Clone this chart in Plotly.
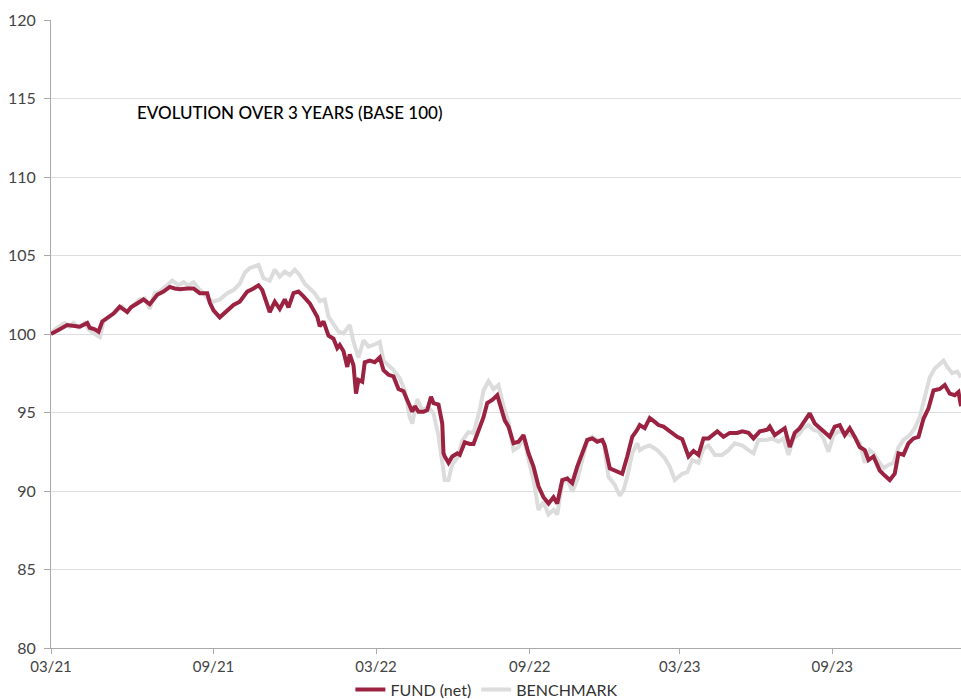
import plotly.graph_objects as go

# x positions are trading-day indices since 03/21
tick_idx = [0, 130, 260, 383, 503, 625]
tick_labels = ["03/21", "09/21", "03/22", "09/22", "03/23", "09/23"]

fund_idx = [0, 3, 7, 13, 18, 23, 29, 31, 35, 38, 41, 45, 50, 55, 61, 64, 69, 74, 79, 85,
            90, 95, 99, 103, 109, 114, 119, 125, 127, 130, 135, 141, 146, 151, 157, 162, 166, 169, 173, 175,
            179, 183, 187, 190, 194, 198, 202, 207, 213, 215, 218, 222, 226, 229, 231, 234, 237, 239, 242, 244,
            246, 249, 251, 255, 259, 263, 266, 270, 274, 278, 282, 286, 289, 291, 294, 298, 301, 304, 306, 310,
            313, 314, 315, 318, 321, 325, 327, 331, 335, 338, 342, 346, 349, 353, 357, 359, 363, 366, 370, 374,
            378, 382, 386, 390, 394, 398, 402, 405, 409, 413, 417, 421, 425, 429, 433, 437, 441, 443, 447, 453,
            457, 461, 465, 469, 471, 475, 479, 483, 486, 490, 495, 501, 505, 510, 514, 518, 522, 526, 533, 538,
            543, 549, 553, 558, 562, 567, 573, 575, 579, 583, 587, 591, 595, 599, 603, 607, 611, 615, 619, 623,
            627, 631, 635, 639, 643, 647, 651, 654, 658, 663, 667, 671, 675, 678, 682, 686, 690, 694, 698, 702,
            706, 711, 715, 719, 723, 726, 728]
fund_vals = [100.0, 100.1, 100.3, 100.57, 100.5, 100.46, 100.7, 100.4, 100.3, 100.15, 100.8, 101.0, 101.3, 101.74, 101.4, 101.7, 101.95, 102.2, 101.9, 102.5,
             102.7, 103.0, 102.9, 102.85, 102.9, 102.9, 102.6, 102.6, 102.0, 101.5, 101.06, 101.5, 101.85, 102.06, 102.7, 102.9, 103.1, 102.8, 101.95, 101.4,
             102.06, 101.6, 102.2, 101.7, 102.6, 102.7, 102.4, 101.95, 101.1, 100.5, 100.8, 99.9, 99.7, 99.1, 99.3, 98.9, 97.9, 98.7, 98.0, 96.2,
             97.07, 96.96, 98.2, 98.3, 98.2, 98.5, 97.7, 97.4, 97.3, 96.5, 96.35, 95.6, 95.05, 95.4, 95.05, 95.05, 95.16, 96.0, 95.6, 95.5,
             94.3, 92.4, 92.2, 91.8, 92.2, 92.4, 92.3, 93.1, 93.0, 93.0, 93.8, 94.7, 95.6, 95.8, 96.1, 95.6, 94.5, 94.1, 93.04, 93.14,
             93.56, 92.4, 91.55, 90.3, 89.6, 89.2, 89.6, 89.2, 90.7, 90.8, 90.5, 91.55, 92.4, 93.25, 93.35, 93.14, 93.25, 92.9, 91.45, 91.2,
             91.1, 92.2, 93.45, 93.9, 94.2, 94.0, 94.65, 94.4, 94.2, 94.1, 93.8, 93.45, 93.3, 92.2, 92.55, 92.3, 93.35, 93.35, 93.8, 93.45,
             93.7, 93.7, 93.8, 93.7, 93.35, 93.8, 93.9, 94.1, 93.56, 93.8, 94.0, 92.8, 93.7, 94.0, 94.5, 94.95, 94.3, 94.0, 93.7, 93.45,
             94.1, 94.2, 93.56, 94.0, 93.45, 92.8, 92.6, 91.97, 92.2, 91.3, 90.98, 90.7, 91.1, 92.4, 92.3, 93.04, 93.35, 93.45, 94.6, 95.27,
             96.4, 96.5, 96.75, 96.2, 96.1, 96.3, 95.4]

bench_idx = [0, 5, 11, 15, 18, 22, 27, 30, 34, 39, 42, 47, 53, 57, 61, 66, 71, 75, 79, 83,
             87, 91, 97, 102, 106, 110, 114, 118, 122, 125, 130, 135, 141, 146, 151, 155, 159, 166, 170, 175,
             179, 183, 187, 191, 195, 199, 203, 207, 211, 215, 219, 222, 226, 230, 234, 239, 242, 246, 250, 254,
             258, 263, 266, 270, 274, 279, 283, 287, 289, 293, 297, 302, 306, 310, 313, 315, 318, 321, 325, 329,
             334, 338, 343, 346, 350, 354, 358, 362, 366, 370, 374, 378, 382, 386, 390, 394, 398, 402, 405, 409,
             413, 417, 421, 425, 429, 433, 437, 442, 446, 451, 455, 458, 461, 465, 469, 471, 475, 479, 485, 491,
             495, 499, 505, 509, 513, 518, 522, 526, 531, 537, 542, 547, 553, 558, 562, 566, 572, 577, 582, 586,
             590, 594, 598, 602, 606, 610, 614, 618, 622, 626, 630, 634, 639, 643, 647, 651, 655, 658, 663, 666,
             670, 674, 678, 682, 687, 691, 695, 699, 703, 707, 710, 714, 717, 721, 725, 728]
bench_vals = [100.06, 100.4, 100.7, 100.46, 100.7, 100.4, 100.7, 100.3, 100.06, 99.8, 100.8, 101.1, 101.5, 101.74, 101.4, 101.85, 102.2, 102.27, 101.6, 102.6,
              102.7, 103.0, 103.4, 103.1, 103.3, 103.1, 103.3, 102.9, 102.6, 102.27, 102.06, 102.2, 102.6, 102.8, 103.2, 103.9, 104.2, 104.4, 103.55, 103.4,
              104.1, 103.65, 103.97, 103.75, 104.1, 103.75, 103.2, 102.9, 102.6, 102.1, 102.2, 101.1, 100.6, 100.15, 100.04, 100.57, 99.5, 98.5, 99.6, 99.2,
              99.3, 99.5, 98.3, 98.0, 97.7, 97.2, 96.4, 94.7, 94.3, 95.85, 95.16, 95.35, 94.95, 93.5, 91.8, 90.7, 90.7, 91.7, 92.1, 93.2,
              93.75, 93.7, 95.16, 96.4, 97.0, 96.5, 96.75, 95.4, 94.4, 92.6, 92.8, 93.45, 92.0, 90.7, 88.8, 89.3, 88.5, 88.8, 88.5, 90.5,
              90.8, 89.96, 90.7, 91.97, 93.25, 93.45, 93.25, 93.14, 90.9, 90.4, 89.7, 90.06, 90.9, 92.4, 93.04, 92.6, 92.8, 92.9, 92.6, 92.1,
              91.55, 90.7, 91.1, 91.2, 91.97, 91.8, 92.7, 92.9, 92.3, 92.3, 92.6, 93.04, 92.9, 92.6, 92.4, 93.25, 93.25, 93.35, 93.14, 93.35,
              92.3, 93.35, 93.56, 94.0, 94.2, 93.9, 93.8, 93.35, 92.5, 93.56, 93.8, 93.7, 93.56, 93.45, 93.04, 91.8, 92.6, 92.4, 91.8, 91.45,
              91.66, 91.8, 92.8, 93.25, 93.56, 94.0, 94.7, 95.96, 97.24, 97.8, 98.0, 98.3, 97.9, 97.5, 97.6, 97.24]

FONT = "Lato"

fig = go.Figure()
fig.add_trace(go.Scatter(x=bench_idx, y=bench_vals, mode="lines", name="BENCHMARK",
                         line=dict(color="#DCDCDC", width=4), legendrank=2))
fig.add_trace(go.Scatter(x=fund_idx, y=fund_vals, mode="lines", name="FUND (net)",
                         line=dict(color="#9B2341", width=4), legendrank=1))

fig.add_annotation(text="EVOLUTION OVER 3 YEARS (BASE 100)", xref="paper", yref="y",
                   x=0.0926, y=114.1, xanchor="left", yanchor="middle", showarrow=False,
                   font=dict(family=FONT, size=17, color="#000", weight=500))

fig.update_layout(
    width=961, height=699,
    margin=dict(l=51, r=0, t=20, b=51, autoexpand=False),
    plot_bgcolor="white", paper_bgcolor="white",
    font=dict(family=FONT, color="#444"),
    showlegend=True,
    legend=dict(orientation="h", x=0.479, xanchor="center", y=-0.039, yanchor="top",
                font=dict(family=FONT, size=16, color="#333"), itemwidth=30),
    xaxis=dict(range=[0, 728], tickvals=tick_idx, ticktext=tick_labels,
               showgrid=False, zeroline=False, showline=True, linecolor="#aaa", linewidth=1,
               ticks="outside", ticklen=5, tickcolor="#aaa",
               tickfont=dict(family=FONT, size=15, color="#444")),
    yaxis=dict(range=[80, 120], dtick=5, showgrid=True, gridcolor="#dddddd", gridwidth=1,
               zeroline=False, showline=True, linecolor="#aaa", linewidth=1,
               ticks="outside", ticklen=6, tickcolor="#aaa", ticklabelstandoff=5,
               tickfont=dict(family=FONT, size=16, color="#444")),
)

fig.write_html("out.html", config={"displayModeBar": False},
               post_script="document.body.style.margin='0';document.body.style.overflow='hidden';")
